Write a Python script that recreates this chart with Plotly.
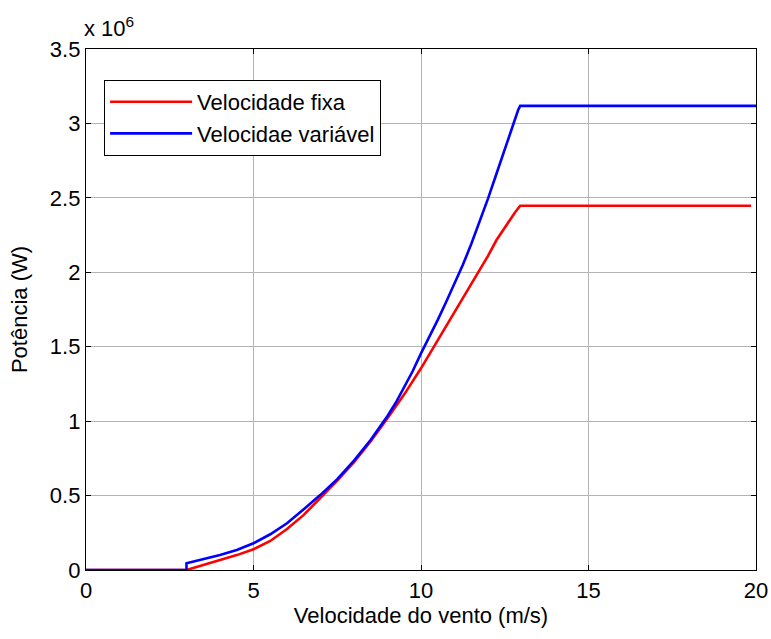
import plotly.graph_objects as go

# Wind speed (m/s) and power (x 10^6 W)
x_var = [0, 3, 3, 3.5, 4, 4.5, 5, 5.5, 6, 6.5, 7, 7.5, 8, 8.5, 9, 9.25, 9.5,
         9.75, 10, 10.25, 10.5, 10.75, 11, 11.25, 11.5, 11.75, 12, 12.25, 12.5,
         12.75, 12.9, 12.96, 20]
p_var = [0, 0, 0.045, 0.072, 0.100, 0.135, 0.180, 0.240, 0.314, 0.408, 0.505,
         0.610, 0.735, 0.875, 1.035, 1.125, 1.225, 1.335, 1.455, 1.565, 1.680,
         1.800, 1.920, 2.050, 2.190, 2.340, 2.495, 2.660, 2.830, 3.000, 3.090,
         3.118, 3.118]

x_fix = [0, 3, 3.5, 4, 4.5, 5, 5.5, 6, 6.5, 7, 7.5, 8, 8.5, 9, 9.5, 10,
         10.5, 11, 11.5, 12, 12.25, 12.5, 12.66, 12.8, 12.96, 19.85]
p_fix = [0, 0, 0.034, 0.067, 0.100, 0.139, 0.195, 0.275, 0.370, 0.485, 0.600,
         0.725, 0.865, 1.020, 1.180, 1.355, 1.545, 1.735, 1.920, 2.110, 2.215,
         2.300, 2.350, 2.400, 2.447, 2.447]

x_ticks = [0, 5, 10, 15, 20]
y_ticks = [0, 0.5, 1, 1.5, 2, 2.5, 3, 3.5]
y_tick_text = ["0", "0.5", "1", "1.5", "2", "2.5", "3", "3.5"]

FONT = "Arial, Liberation Sans, sans-serif"
FS = 22

fig = go.Figure()
fig.add_trace(go.Scatter(x=x_fix, y=p_fix, mode="lines", name="Velocidade fixa",
                         line=dict(color="#ff0000", width=2.6)))
fig.add_trace(go.Scatter(x=x_var, y=p_var, mode="lines", name="Velocidae variável",
                         line=dict(color="#0000ff", width=2.6)))

axis_common = dict(
    showline=True, linecolor="black", linewidth=1.3, mirror="ticks",
    ticks="inside", ticklen=5, tickcolor="black", tickwidth=1,
    showgrid=True, gridcolor="#b4b4b4", gridwidth=1, zeroline=False,
    automargin=False,
    tickfont=dict(family=FONT, size=FS, color="black"),
)

fig.update_xaxes(range=[0, 20], tickvals=x_ticks, ticktext=[str(v) for v in x_ticks],
                 title=dict(text="Velocidade do vento (m/s)", standoff=6,
                            font=dict(family=FONT, size=FS, color="black")),
                 **axis_common)
fig.update_yaxes(range=[0, 3.5], tickvals=y_ticks, ticktext=y_tick_text,
                 title=dict(text="Potência (W)", standoff=16,
                            font=dict(family=FONT, size=FS, color="black")),
                 **axis_common)

fig.add_annotation(text="x 10<sup>6</sup>", xref="paper", yref="paper",
                   x=0, y=1, xanchor="left", yanchor="bottom", showarrow=False,
                   xshift=-4, yshift=6, font=dict(family=FONT, size=FS, color="black"))

fig.update_layout(
    width=771, height=639,
    margin=dict(l=86, r=15, t=49, b=69, autoexpand=False),
    paper_bgcolor="white", plot_bgcolor="white",
    font=dict(family=FONT, size=FS, color="black"),
    showlegend=True,
    legend=dict(x=0.027, y=0.9405, xanchor="left", yanchor="top",
                bgcolor="white", bordercolor="black", borderwidth=1,
                itemwidth=82, tracegroupgap=0,
                font=dict(family=FONT, size=FS, color="black")),
)

fig.write_html("out.html", config={"displayModeBar": False},
               post_script="document.body.style.margin='0';document.body.style.overflow='hidden';")
